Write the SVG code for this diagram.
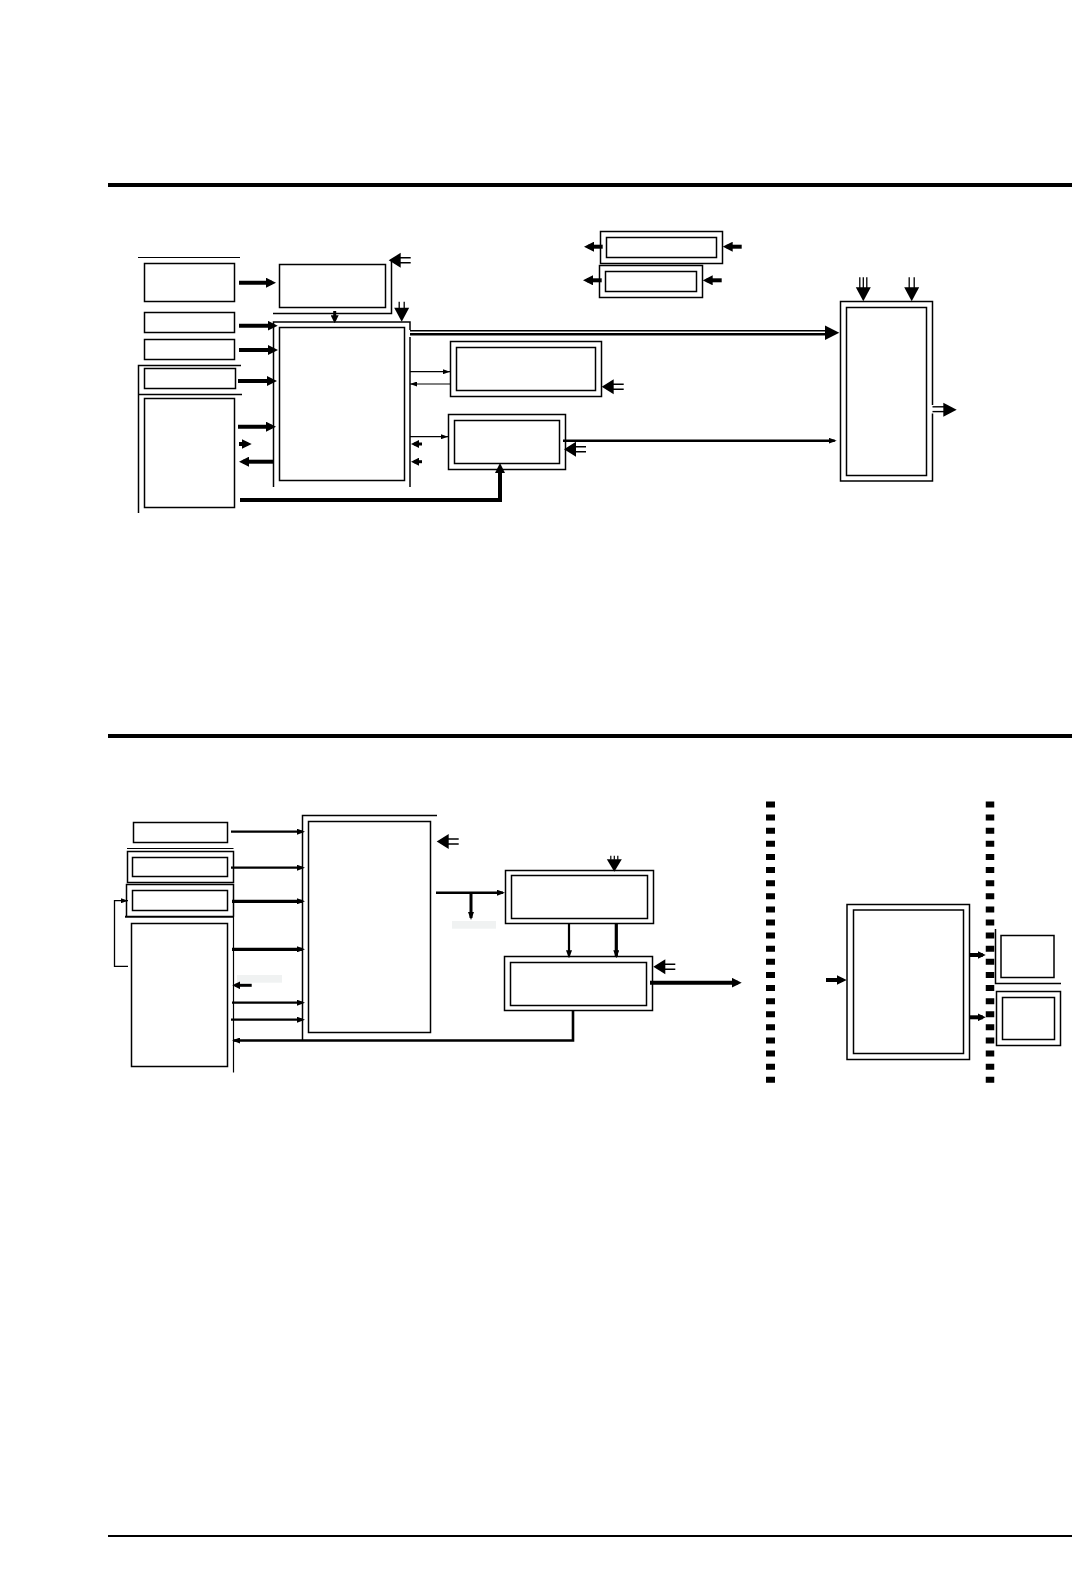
<svg xmlns="http://www.w3.org/2000/svg" xmlns:xlink="http://www.w3.org/1999/xlink" width="1072" height="1573" viewBox="0 0 1072 1573">
<style>
.b{fill:none;stroke:#000;stroke-width:1.5}
.l{fill:none;stroke:#000}
.f{fill:#000;stroke:none}
.w1{stroke-width:1.2}
.w2{stroke-width:2.2}
.w3{stroke-width:3.2}
.w4{stroke-width:4}
.g{fill:#f0f2f2;stroke:none}
</style>
<defs>
<marker id="a4" viewBox="0 0 10 10" markerWidth="10" markerHeight="10" refX="6" refY="5" orient="auto" markerUnits="userSpaceOnUse"><path d="M0,0L10,5L0,10z"/></marker>
<marker id="a3" viewBox="0 0 8 8" markerWidth="8" markerHeight="8" refX="5" refY="4" orient="auto" markerUnits="userSpaceOnUse"><path d="M0,0L8,4L0,8z"/></marker>
<marker id="a2" viewBox="0 0 8 6" markerWidth="8" markerHeight="6" refX="6" refY="3" orient="auto" markerUnits="userSpaceOnUse"><path d="M0,0L8,3L0,6z"/></marker>
<marker id="a1" viewBox="0 0 7 5" markerWidth="7" markerHeight="5" refX="7" refY="2.5" orient="auto" markerUnits="userSpaceOnUse"><path d="M0,0L7,2.5L0,5z"/></marker>
<g id="dl"><polygon class="f" points="0,0 12,-7.5 12,7.5"/><path class="l" stroke-width="1.4" d="M11,-2.5H22M11,2.5H22"/></g>
<g id="dd2"><polygon class="f" points="0,0 -7.5,-14 7.5,-14"/><path class="l" stroke-width="1.3" d="M-2.5,-13V-24M2.5,-13V-24"/></g>
<g id="dd3"><polygon class="f" points="0,0 -7.5,-14 7.5,-14"/><path class="l" stroke-width="1.3" d="M-3.5,-13V-24M0,-13V-24M3.5,-13V-24"/></g>
<g id="dd3s"><polygon class="f" points="0,0 -7.5,-12.5 7.5,-12.5"/><path class="l" stroke-width="1.2" d="M-3.5,-12V-16M0,-12V-16M3.5,-12V-16"/></g>
<g id="dd2s"><polygon class="f" points="0,0 -7.5,-14 7.5,-14"/><path class="l" stroke-width="1.3" d="M-2.5,-13V-20M2.5,-13V-20"/></g>
</defs>
<rect width="1072" height="1573" fill="#fff"/>

<g id="rules">
<line class="l w4" x1="108" y1="185" x2="1072" y2="185"/>
<line class="l w4" x1="108" y1="736" x2="1072" y2="736"/>
<line class="l" stroke-width="2" x1="108" y1="1536" x2="1072" y2="1536"/>
</g>

<g id="nodeA"><line class="l w1" x1="138" y1="257.5" x2="240" y2="257.5"/><rect class="b" x="144.5" y="263.5" width="90" height="38"/></g>
<g id="nodeB"><rect class="b" x="144.5" y="312.5" width="90" height="20"/></g>
<g id="nodeC"><rect class="b" x="144.5" y="339.5" width="90" height="20"/></g>
<g id="bracketDE"><path class="b" d="M241,365.5H138.5V513M138.5,394.5H242"/></g>
<g id="nodeD"><rect class="b" x="144.5" y="368.5" width="91" height="20"/></g>
<g id="nodeE"><rect class="b" x="144.5" y="398.5" width="90" height="109"/></g>
<g id="nodeF"><rect class="b" x="279.5" y="264.5" width="106" height="43"/><path class="b" d="M273,313.5H391.5V261"/></g>
<g id="nodeG"><path class="b" d="M273.5,487V322H410V330M410,337V487"/><rect class="b" x="279.5" y="327.5" width="125" height="153"/></g>
<g id="nodeH"><rect class="b" x="450.5" y="341.5" width="151" height="55"/><rect class="b" x="456.5" y="347.5" width="139" height="43"/></g>
<g id="nodeI"><rect class="b" x="448.5" y="414.5" width="117" height="55"/><rect class="b" x="454.5" y="420.5" width="105" height="43"/></g>
<g id="nodeK"><rect class="b" x="600.5" y="231.5" width="122" height="32"/><rect class="b" x="606.5" y="237.5" width="110" height="20"/></g>
<g id="nodeL"><rect class="b" x="599.5" y="265.5" width="103" height="32"/><rect class="b" x="605.5" y="271.5" width="91" height="20"/></g>
<g id="nodeJ"><path class="b" d="M932.5,405V301.5H840.5V481H932.5V413.5"/><rect class="b" x="846.5" y="307.5" width="80" height="168"/></g>

<g id="nodeM"><rect class="b" x="133.5" y="822.5" width="94" height="20"/><line class="l w1" x1="127" y1="848.5" x2="233.5" y2="848.5"/></g>
<g id="nodeN"><rect class="b" x="127.5" y="851.5" width="106" height="31"/><rect class="b" x="132.5" y="857.5" width="95" height="19"/></g>
<g id="nodeO"><path class="b" d="M126.5,916.5V884.5H233.5V916.5"/><line class="l" stroke-width="2" x1="125" y1="916.8" x2="233.5" y2="916.8"/><rect class="b" x="132.5" y="890.5" width="95" height="20"/></g>
<g id="nodeP"><rect class="b" x="131.5" y="923.5" width="96" height="143"/><line class="l w1" x1="233.5" y1="916" x2="233.5" y2="1072.5"/></g>
<g id="nodeQ"><path class="b" d="M302.5,1040V815.5H437"/><rect class="b" x="308.5" y="821.5" width="122" height="211"/></g>
<g id="nodeR"><rect class="b" x="505.5" y="870.5" width="148" height="53"/><rect class="b" x="511.5" y="875.5" width="136" height="43"/></g>
<g id="nodeS"><rect class="b" x="504.5" y="956.5" width="148" height="54"/><rect class="b" x="510.5" y="962.5" width="136" height="43"/></g>
<g id="borders"><line class="l" stroke-width="9" stroke-dasharray="6 7.11" x1="770.5" y1="801.5" x2="770.5" y2="1084"/><line class="l" stroke-width="8.5" stroke-dasharray="6 7.11" x1="990" y1="801.5" x2="990" y2="1084"/></g>
<g id="nodeT"><rect class="b" x="847" y="904.5" width="122.5" height="155"/><rect class="b" x="853.5" y="910" width="110" height="143.5"/></g>
<g id="nodeU"><path class="b" d="M995.5,929V983.5H1061"/><rect class="b" x="1001" y="935.5" width="53" height="42"/></g>
<g id="nodeV"><rect class="b" x="996.5" y="991.5" width="64" height="54"/><rect class="b" x="1002.5" y="997.5" width="52" height="42"/></g>
<g id="blanks"><rect class="g" x="237" y="975" width="45" height="7.7"/><rect class="g" x="452" y="921" width="44" height="7.7"/></g>

<g id="connectors">
<line class="l w4" x1="239" y1="282.7" x2="272" y2="282.7" marker-end="url(#a4)"/>
<line class="l w4" x1="239" y1="325.7" x2="273.7" y2="325.7" marker-end="url(#a4)"/>
<line class="l w4" x1="239" y1="350" x2="274" y2="350" marker-end="url(#a4)"/>
<line class="l w4" x1="238" y1="381" x2="273" y2="381" marker-end="url(#a4)"/>
<line class="l w4" x1="238" y1="426.7" x2="272" y2="426.7" marker-end="url(#a4)"/>
<line class="l w4" x1="239" y1="444" x2="247.7" y2="444" marker-end="url(#a4)"/>
<line class="l w4" x1="273" y1="461.7" x2="243" y2="461.7" marker-end="url(#a4)"/>
<path class="l w4" d="M240,500H500V467" marker-end="url(#a4)"/>
<line class="l" stroke-width="3" x1="334.7" y1="311" x2="334.7" y2="320.3" marker-end="url(#a3)"/>
<use xlink:href="#dd2s" x="401.7" y="321.7"/>
<use xlink:href="#dl" x="388.7" y="260.3"/>
<line class="l w1" x1="410" y1="371.7" x2="450" y2="371.7" marker-end="url(#a1)"/>
<line class="l w1" x1="450" y1="384" x2="410" y2="384" marker-end="url(#a1)"/>
<line class="l w1" x1="410" y1="436.7" x2="448" y2="436.7" marker-end="url(#a1)"/>
<line class="l" stroke-width="3" x1="422" y1="444" x2="414" y2="444" marker-end="url(#a3)"/>
<line class="l" stroke-width="3" x1="422" y1="461.7" x2="414" y2="461.7" marker-end="url(#a3)"/>
<use xlink:href="#dl" x="601.7" y="386.7"/>
<use xlink:href="#dl" x="564" y="449.3"/>
<line class="l" stroke-width="2.5" x1="563" y1="440.7" x2="834.7" y2="440.7" marker-end="url(#a2)"/>
<line class="l w4" x1="602.7" y1="246.7" x2="588" y2="246.7" marker-end="url(#a4)"/>
<line class="l w4" x1="741.7" y1="246.7" x2="726.7" y2="246.7" marker-end="url(#a4)"/>
<line class="l w4" x1="601.7" y1="280.3" x2="587" y2="280.3" marker-end="url(#a4)"/>
<line class="l w4" x1="721.7" y1="280.3" x2="706.7" y2="280.3" marker-end="url(#a4)"/>
<line class="l" stroke-width="1.4" x1="410" y1="330.8" x2="828" y2="330.8"/>
<line class="l" stroke-width="2.5" x1="410" y1="334.3" x2="828" y2="334.3"/>
<polygon class="f" points="825,325.5 839.3,332.7 825,339.9"/>
<use xlink:href="#dd3" x="863.3" y="301.3"/>
<use xlink:href="#dd2" x="911.7" y="301.3"/>
<line class="l" stroke-width="1.4" x1="932.5" y1="406.8" x2="945" y2="406.8"/>
<line class="l" stroke-width="1.4" x1="932.5" y1="411.6" x2="945" y2="411.6"/>
<polygon class="f" points="943.3,402.7 956.7,409.7 943.3,416.7"/>

<line class="l w2" x1="231" y1="831.7" x2="303" y2="831.7" marker-end="url(#a2)"/>
<line class="l w2" x1="231" y1="867.7" x2="303" y2="867.7" marker-end="url(#a2)"/>
<line class="l w3" x1="232" y1="901.3" x2="303" y2="901.3" marker-end="url(#a2)"/>
<line class="l w3" x1="232" y1="949.3" x2="303" y2="949.3" marker-end="url(#a2)"/>
<line class="l" stroke-width="3" x1="251.7" y1="985.3" x2="235.3" y2="985.3" marker-end="url(#a3)"/>
<line class="l w2" x1="232" y1="1002.7" x2="303" y2="1002.7" marker-end="url(#a2)"/>
<line class="l w2" x1="231" y1="1019.7" x2="303" y2="1019.7" marker-end="url(#a2)"/>
<path class="l" stroke-width="2.6" d="M573,1010.3V1040.5H234" marker-end="url(#a2)"/>
<path class="l" stroke-width="1.3" d="M128,966.3H114.5V900.7H128" marker-end="url(#a1)"/>
<use xlink:href="#dl" x="436.7" y="841.5"/>
<line class="l" stroke-width="2.6" x1="436" y1="892.7" x2="503" y2="892.7" marker-end="url(#a2)"/>
<line class="l" stroke-width="3" x1="471" y1="892.7" x2="471" y2="918" marker-end="url(#a2)"/>
<use xlink:href="#dd3s" x="614.3" y="871.7"/>
<line class="l w2" x1="569" y1="923.3" x2="569" y2="956.3" marker-end="url(#a2)"/>
<line class="l w3" x1="616.3" y1="923.3" x2="616.3" y2="956.3" marker-end="url(#a2)"/>
<use xlink:href="#dl" x="653.3" y="966.7"/>
<line class="l w4" x1="650" y1="982.7" x2="737.7" y2="982.7" marker-end="url(#a4)"/>
<line class="l w4" x1="826" y1="980" x2="842.7" y2="980" marker-end="url(#a4)"/>
<line class="l w4" x1="969.5" y1="955" x2="982.7" y2="955" marker-end="url(#a3)"/>
<line class="l w4" x1="969.5" y1="1017.3" x2="982.7" y2="1017.3" marker-end="url(#a3)"/>
</g>
</svg>
